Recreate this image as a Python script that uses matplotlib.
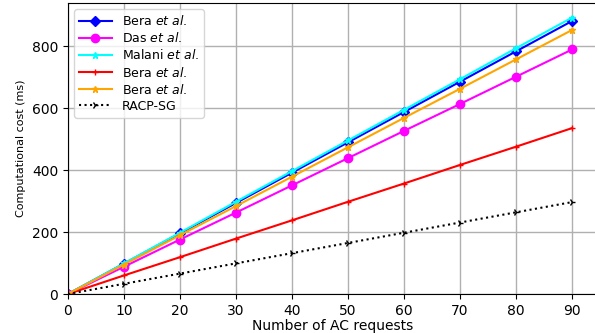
import numpy as np
import matplotlib.pyplot as plt

requests = [0, 10, 20, 30, 40, 50, 60, 70, 80, 90]
bera1 = [0, 98, 196, 294, 392, 490, 588, 686, 784, 882]
das = [0, 88, 176, 263, 351, 439, 527, 614, 702, 790]
malani = [0, 99, 198, 298, 397, 496, 595, 694, 794, 893]
bera2 = [0, 60, 119, 179, 238, 298, 357, 417, 476, 536]
bera3 = [0, 95, 190, 284, 379, 474, 569, 663, 758, 853]
racp = [0, 33, 66, 99, 132, 165, 198, 231, 264, 297]

fig = plt.figure(figsize=(5.95, 3.33), dpi=100)
ax = fig.add_axes([0.114, 0.117, 0.89, 0.874])

ax.plot(requests, bera1, color="blue", marker="D", markersize=5, label=r"Bera $\it{et\ al.}$")
ax.plot(requests, das, color="magenta", marker="o", markersize=6, label=r"Das $\it{et\ al.}$")
ax.plot(requests, malani, color="cyan", marker="*", markersize=5, label=r"Malani $\it{et\ al.}$")
ax.plot(requests, bera2, color="red", marker="+", markersize=5, label=r"Bera $\it{et\ al.}$")
ax.plot(requests, bera3, color="orange", marker="*", markersize=5, label=r"Bera $\it{et\ al.}$")
ax.plot(requests, racp, color="black", linestyle=":", marker="4", markersize=5, label="RACP-SG")

ax.set_xlim(0, 94.5)
ax.set_ylim(0, 940)
ax.set_xticks(requests)
ax.set_yticks([0, 200, 400, 600, 800])
ax.tick_params(labelsize=10)
ax.grid(True, color="#b0b0b0", linewidth=1)
ax.set_xlabel("Number of AC requests", fontsize=10, labelpad=1)
ax.set_ylabel("Computational cost (ms)", fontsize=8)
ax.legend(loc="upper left", fontsize=9, handlelength=2.6, labelspacing=0.25)

fig.savefig("out.png")
